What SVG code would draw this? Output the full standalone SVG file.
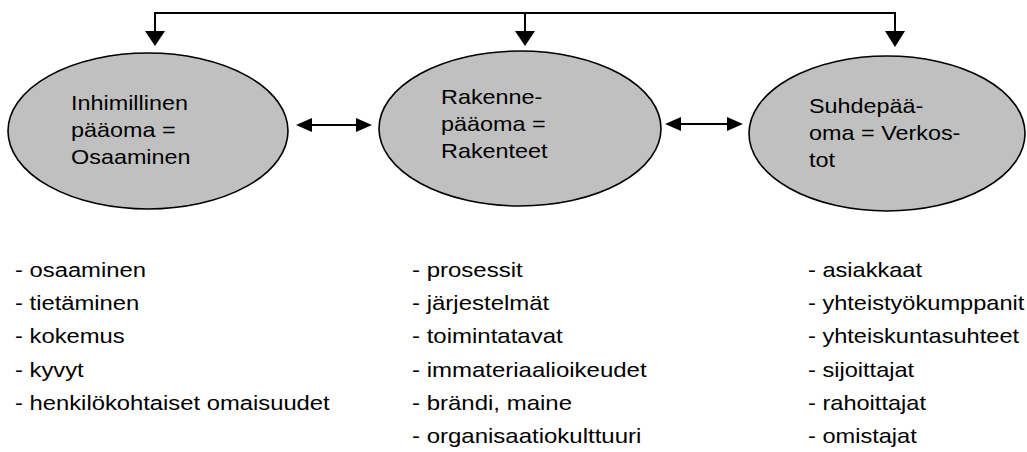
<svg xmlns="http://www.w3.org/2000/svg" width="1027" height="452" viewBox="0 0 1027 452">
<style>
.bg{fill:#ffffff}
.node ellipse{fill:#c0c0c0;stroke:#000;stroke-width:1.6}
text{font-family:"Liberation Sans",Arial,Helvetica,sans-serif;font-size:20px;fill:#000}
.conn line,.conn path{stroke:#000;stroke-width:2;fill:none}
.head{fill:#000;stroke:none}
</style>
<rect class="bg" x="0" y="0" width="1027" height="452"/>
<g id="connectors" class="conn">
  <path d="M155 31 V13 H895 V31"/>
  <line x1="525" y1="13" x2="525" y2="31"/>
  <polygon class="head" points="145,31 165,31 155,46"/>
  <polygon class="head" points="515,31 535,31 525,46"/>
  <polygon class="head" points="885,31 905,31 895,47"/>
  <line x1="310" y1="125" x2="358" y2="125"/>
  <polygon class="head" points="296,125 312,118 312,132"/>
  <polygon class="head" points="372,125 356,118 356,132"/>
  <line x1="679" y1="124" x2="729" y2="124"/>
  <polygon class="head" points="665,124 681,117 681,131"/>
  <polygon class="head" points="743,124 727,117 727,131"/>
</g>
<g id="node-inhimillinen" class="node">
  <ellipse cx="148" cy="131" rx="140" ry="78"/>
  <text transform="translate(71 109.5) scale(1.17 1)">Inhimillinen</text>
  <text transform="translate(71 136.5) scale(1.17 1)">pääoma =</text>
  <text transform="translate(71 163.5) scale(1.17 1)">Osaaminen</text>
</g>
<g id="node-rakenne" class="node">
  <ellipse cx="520" cy="128.5" rx="141" ry="77.5"/>
  <text transform="translate(441 103.5) scale(1.17 1)">Rakenne-</text>
  <text transform="translate(441 130.5) scale(1.17 1)">pääoma =</text>
  <text transform="translate(441 157.5) scale(1.17 1)">Rakenteet</text>
</g>
<g id="node-suhde" class="node">
  <ellipse cx="887" cy="133.5" rx="138" ry="77.5"/>
  <text transform="translate(809 113) scale(1.17 1)">Suhdepää-</text>
  <text transform="translate(809 140) scale(1.17 1)">oma = Verkos-</text>
  <text transform="translate(809 167) scale(1.17 1)">tot</text>
</g>
<g id="list-left">
  <text transform="translate(15 277) scale(1.19 1)">- osaaminen</text>
  <text transform="translate(15 310.2) scale(1.19 1)">- tietäminen</text>
  <text transform="translate(15 343.4) scale(1.19 1)">- kokemus</text>
  <text transform="translate(15 376.6) scale(1.19 1)">- kyvyt</text>
  <text transform="translate(15 409.8) scale(1.19 1)">- henkilökohtaiset omaisuudet</text>
</g>
<g id="list-middle">
  <text transform="translate(412 277) scale(1.2 1)">- prosessit</text>
  <text transform="translate(412 310.2) scale(1.2 1)">- järjestelmät</text>
  <text transform="translate(412 343.4) scale(1.2 1)">- toimintatavat</text>
  <text transform="translate(412 376.6) scale(1.2 1)">- immateriaalioikeudet</text>
  <text transform="translate(412 409.8) scale(1.2 1)">- brändi, maine</text>
  <text transform="translate(412 443) scale(1.2 1)">- organisaatiokulttuuri</text>
</g>
<g id="list-right">
  <text transform="translate(808 277) scale(1.18 1)">- asiakkaat</text>
  <text transform="translate(808 310.2) scale(1.18 1)">- yhteistyökumppanit</text>
  <text transform="translate(808 343.4) scale(1.18 1)">- yhteiskuntasuhteet</text>
  <text transform="translate(808 376.6) scale(1.18 1)">- sijoittajat</text>
  <text transform="translate(808 409.8) scale(1.18 1)">- rahoittajat</text>
  <text transform="translate(808 443) scale(1.18 1)">- omistajat</text>
</g>
</svg>
